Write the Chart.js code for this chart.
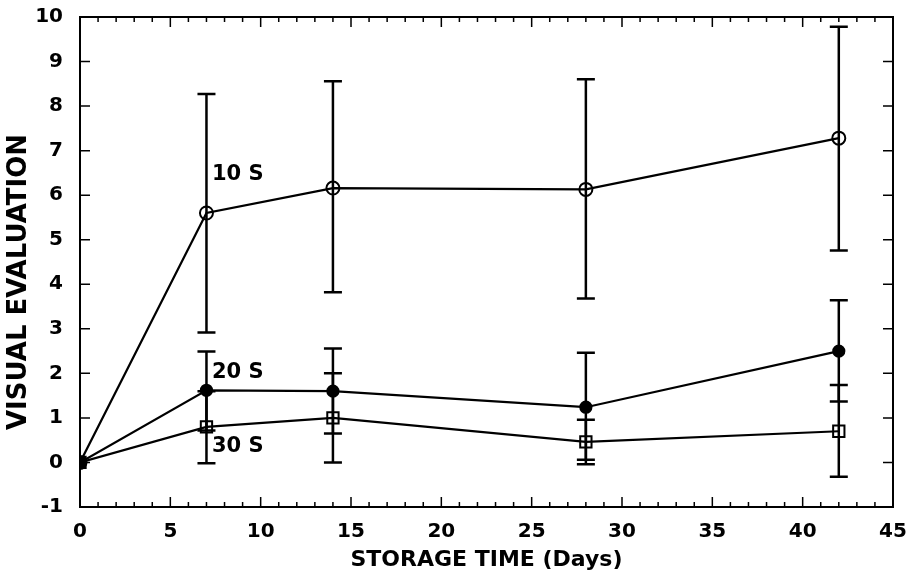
<!DOCTYPE html>
<html>
<head>
<meta charset="utf-8">
<script src="https://cdn.jsdelivr.net/npm/chart.js@4.4.1/dist/chart.umd.min.js"></script>
<style>
  body { margin: 0; background: #fff; }
  #wrap { width: 911px; height: 573px; }
</style>
</head>
<body>
<div id="wrap"><canvas id="storageChart"></canvas></div>
<script>
// storage time (days)
const days = [0, 7, 14, 28, 42];

// 10 S
const s10 = [0, 5.6, 6.16, 6.13, 7.28];
const s10Lo = [0, 2.92, 3.82, 3.68, 4.76];
const s10Hi = [0, 8.27, 8.56, 8.6, 9.78];

// 20 S
const s20 = [0, 1.62, 1.6, 1.24, 2.5];
const s20Lo = [0, 0.72, 0.65, 0.06, 1.37];
const s20Hi = [0, 2.49, 2.56, 2.46, 3.64];

// 30 S
const s30 = [0, 0.8, 1.0, 0.46, 0.7];
const s30Lo = [0, -0.02, 0.0, -0.04, -0.32];
const s30Hi = [0, 1.6, 2.0, 0.96, 1.74];

// curve labels
const seriesLabels = ['10 S', '20 S', '30 S'];
const labelX = [7.3, 7.3, 7.3];
const labelY = [6.46, 2.01, 0.35];

const FONT = "'DejaVu Sans', sans-serif";

function points(ys) {
  return days.map((d, i) => ({ x: d, y: ys[i] }));
}

// error bars drawn from the lo/hi arrays
const errorBars = {
  id: 'errorBars',
  afterDatasetsDraw(chart) {
    const { ctx, scales: { x, y } } = chart;
    const sets = [[s10Lo, s10Hi], [s20Lo, s20Hi], [s30Lo, s30Hi]];
    ctx.save();
    ctx.strokeStyle = '#000';
    ctx.lineWidth = 2.5;
    sets.forEach(([lo, hi]) => {
      days.forEach((d, i) => {
        if (lo[i] === hi[i]) return;
        const px = x.getPixelForValue(d);
        const y1 = y.getPixelForValue(lo[i]);
        const y2 = y.getPixelForValue(hi[i]);
        ctx.beginPath();
        ctx.moveTo(px, y1); ctx.lineTo(px, y2);
        ctx.moveTo(px - 9, y1); ctx.lineTo(px + 9, y1);
        ctx.moveTo(px - 9, y2); ctx.lineTo(px + 9, y2);
        ctx.stroke();
      });
    });
    ctx.restore();
  }
};

// box frame with inward ticks on all four sides, curve labels, y title
const frame = {
  id: 'frame',
  afterDraw(chart) {
    const { ctx, chartArea: a, scales: { x, y } } = chart;
    ctx.save();
    ctx.strokeStyle = '#000';
    ctx.lineWidth = 2;
    ctx.strokeRect(a.left, a.top, a.right - a.left, a.bottom - a.top);
    ctx.lineWidth = 1.5;
    ctx.beginPath();
    for (let v = 0; v <= 45; v++) {
      const px = x.getPixelForValue(v);
      const len = v % 5 === 0 ? 10 : 5;
      ctx.moveTo(px, a.bottom); ctx.lineTo(px, a.bottom - len);
      ctx.moveTo(px, a.top); ctx.lineTo(px, a.top + len);
    }
    for (let v = -1; v <= 10; v++) {
      const py = y.getPixelForValue(v);
      ctx.moveTo(a.left, py); ctx.lineTo(a.left + 10, py);
      ctx.moveTo(a.right, py); ctx.lineTo(a.right - 10, py);
    }
    ctx.stroke();

    ctx.fillStyle = '#000';
    ctx.font = 'bold 21px ' + FONT;
    ctx.textAlign = 'left';
    ctx.textBaseline = 'middle';
    seriesLabels.forEach((t, i) => {
      ctx.fillText(t, x.getPixelForValue(labelX[i]), y.getPixelForValue(labelY[i]));
    });

    // y axis title, sits a little below the axis centre in the original
    ctx.translate(19, 282);
    ctx.rotate(-Math.PI / 2);
    ctx.font = 'bold 26px ' + FONT;
    ctx.textAlign = 'center';
    ctx.fillText('VISUAL EVALUATION', 0, 0);
    ctx.restore();
  }
};

new Chart(document.getElementById('storageChart'), {
  type: 'scatter',
  data: {
    datasets: [
      {
        label: '10 S',
        data: points(s10),
        showLine: true,
        borderColor: '#000',
        borderWidth: 2.2,
        pointStyle: 'circle',
        pointRadius: 6.5,
        pointBorderWidth: 2,
        pointBorderColor: '#000',
        pointBackgroundColor: 'rgba(0,0,0,0)'
      },
      {
        label: '20 S',
        data: points(s20),
        showLine: true,
        borderColor: '#000',
        borderWidth: 2.2,
        pointStyle: 'circle',
        pointRadius: 5.5,
        pointBorderColor: '#000',
        pointBackgroundColor: '#000'
      },
      {
        label: '30 S',
        data: points(s30),
        showLine: true,
        borderColor: '#000',
        borderWidth: 2.2,
        pointStyle: 'rect',
        pointRadius: 8,
        pointBorderWidth: 2,
        pointBorderColor: '#000',
        pointBackgroundColor: 'rgba(0,0,0,0)'
      }
    ]
  },
  plugins: [errorBars, frame],
  options: {
    responsive: true,
    maintainAspectRatio: false,
    animation: false,
    layout: { padding: { top: 17, right: 18, left: 0, bottom: 0 } },
    plugins: {
      legend: { display: false },
      tooltip: { enabled: false }
    },
    scales: {
      x: {
        type: 'linear',
        min: 0,
        max: 45,
        grid: { display: false },
        border: { display: false },
        ticks: {
          stepSize: 5,
          color: '#000',
          padding: 5,
          font: { family: FONT, size: 20, weight: 'bold' }
        },
        title: {
          display: true,
          text: 'STORAGE TIME (Days)',
          color: '#000',
          padding: { top: 0, bottom: 0 },
          font: { family: FONT, size: 22, weight: 'bold' }
        },
        afterFit(scale) {
          scale.height = 66;
          scale.paddingLeft = 0;
          scale.paddingRight = 0;
        }
      },
      y: {
        min: -1,
        max: 10,
        grid: { display: false },
        border: { display: false },
        ticks: {
          stepSize: 1,
          color: '#000',
          padding: 9,
          font: { family: FONT, size: 20, weight: 'bold' }
        },
        afterFit(scale) {
          scale.width = 80;
          scale.paddingTop = 0;
          scale.paddingBottom = 0;
        }
      }
    }
  }
});
</script>
</body>
</html>
